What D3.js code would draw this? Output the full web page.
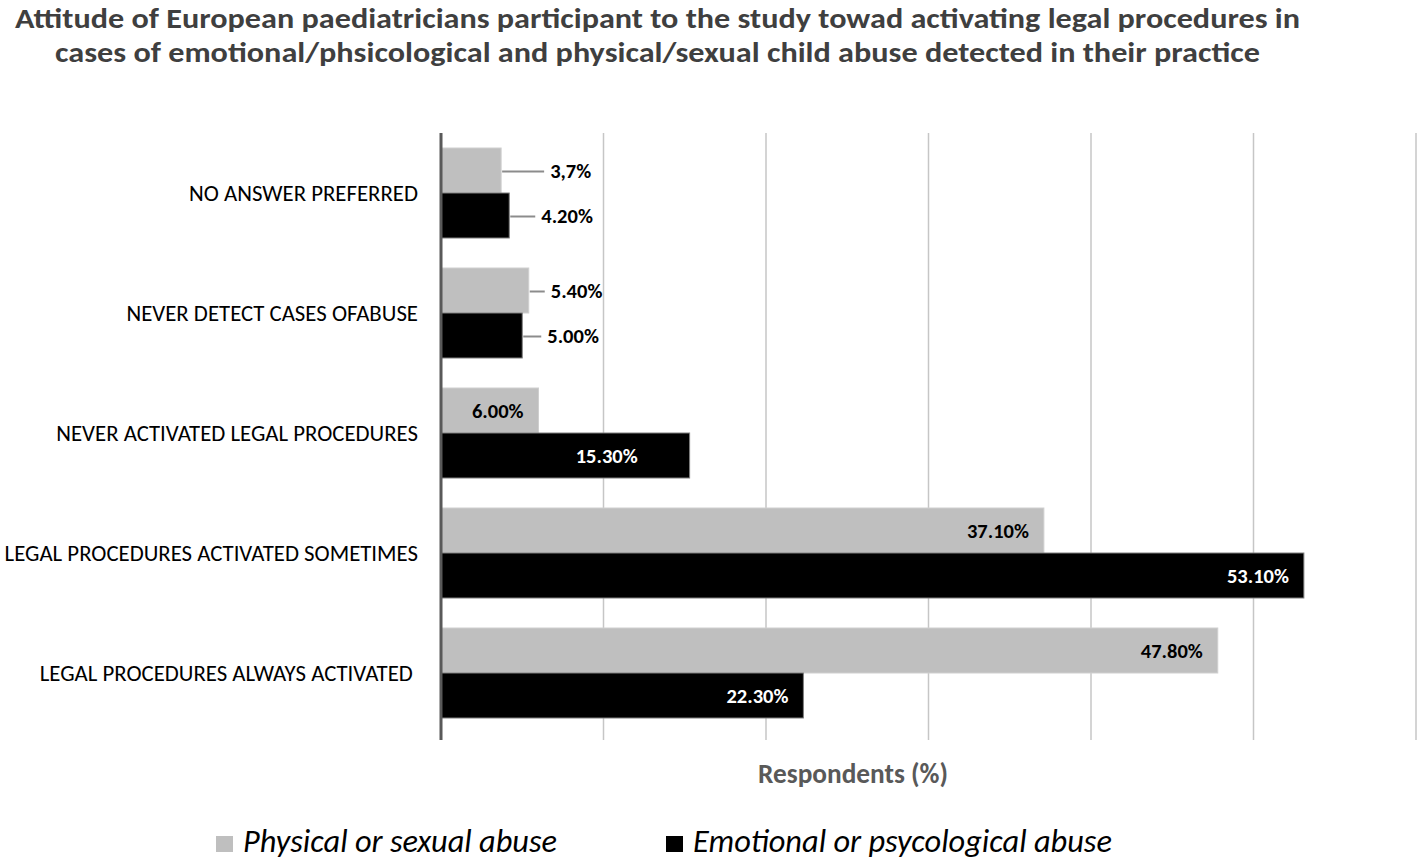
<!DOCTYPE html>
<html><head><meta charset="utf-8">
<script src="https://cdn.jsdelivr.net/npm/d3@7"></script>
<style>
html,body{margin:0;padding:0;background:#fff;}
svg{display:block;font-family:Carlito,Calibri,Lato,"Open Sans",sans-serif;}
</style></head>
<body>
<svg id="c" width="1417" height="861"></svg>
<script>
const categories = [
  "NO ANSWER PREFERRED",
  "NEVER DETECT CASES OFABUSE",
  "NEVER ACTIVATED LEGAL PROCEDURES",
  "LEGAL PROCEDURES ACTIVATED SOMETIMES",
  "LEGAL PROCEDURES ALWAYS ACTIVATED "
];
const seriesNames = ["Physical or sexual abuse", "Emotional or psycological abuse"];
const physical = [3.7, 5.4, 6.0, 37.1, 47.8];
const emotional = [4.2, 5.0, 15.3, 53.1, 22.3];
const physicalLabels = ["3,7%", "5.40%", "6.00%", "37.10%", "47.80%"];
const emotionalLabels = ["4.20%", "5.00%", "15.30%", "53.10%", "22.30%"];
const xTicks = [0, 10, 20, 30, 40, 50, 60];
const titleLines = [
  "Attitude of European paediatricians participant to the study towad activating legal procedures in",
  "cases of emotional/phsicological and physical/sexual child abuse detected in their practice"
];
const xTitle = "Respondents (%)";

(function () {
const svg = d3.select("#c");
const pL = 441, pR = 1416, pT = 133, pB = 733;
const colors = ["#bfbfbf", "#000000"];
const strokes = ["#cfcfcf", "#7f7f7f"];

// font size such that text reaches a given width
function fitSize(txt, weight, style, target) {
  const t = svg.append("text").attr("font-size", 20).attr("font-weight", weight)
    .attr("font-style", style).style("white-space", "pre").text(txt);
  const w = t.node().getComputedTextLength();
  t.remove();
  return 20 * target / w;
}
const fsCat = fitSize(categories[0], "normal", "normal", 229);
const fsLab = fitSize("53.10%", "bold", "normal", 62);
const fsXT = fitSize(xTitle, "bold", "normal", 190);
const fsLeg = fitSize(seriesNames[0], "normal", "italic", 314);

const x = d3.scaleLinear().domain([0, 60]).range([pL, pR]);
const y = d3.scaleBand().domain(categories).range([pT, pB]).paddingInner(0.25).paddingOuter(0.125);
const ySub = d3.scaleBand().domain([0, 1]).range([0, y.bandwidth()]);

// title (two centred lines)
const titleX = [15, 55], titleW = [1285, 1205], titleY = [27.5, 62];
svg.append("g").selectAll("text").data(titleLines).join("text")
  .attr("x", (d, i) => titleX[i]).attr("y", (d, i) => titleY[i])
  .attr("font-weight", "bold").attr("font-size", 28)
  .attr("textLength", (d, i) => titleW[i]).attr("lengthAdjust", "spacingAndGlyphs")
  .attr("fill", "#3f3f3f").text(d => d);

// gridlines
svg.append("g").selectAll("line").data(xTicks.slice(1)).join("line")
  .attr("x1", d => x(d)).attr("x2", d => x(d)).attr("y1", pT).attr("y2", pB + 7)
  .attr("stroke", "#c6c6c6").attr("stroke-width", 1.5);

const rows = categories.map((c, i) => ({
  cat: c,
  vals: [
    {s: 0, v: physical[i], label: physicalLabels[i]},
    {s: 1, v: emotional[i], label: emotionalLabels[i]}
  ]
}));

const g = svg.append("g").selectAll("g").data(rows).join("g")
  .attr("transform", d => `translate(0,${y(d.cat)})`);

g.selectAll("rect").data(d => d.vals).join("rect")
  .attr("x", x(0)).attr("y", d => ySub(d.s))
  .attr("width", d => x(d.v) - x(0)).attr("height", ySub.bandwidth())
  .attr("fill", d => colors[d.s]).attr("stroke", d => strokes[d.s]).attr("stroke-width", 1);

// labels
const outsideGap = {"0-0": 49, "0-1": 32, "1-0": 22, "1-1": 25};
rows.forEach((r, i) => {
  r.vals.forEach(d => {
    const cy = y(r.cat) + ySub(d.s) + ySub.bandwidth() / 2;
    const key = i + "-" + d.s;
    const xe = x(d.v);
    if (outsideGap[key] !== undefined) {
      const gap = outsideGap[key];
      svg.append("line").attr("x1", xe + 1).attr("x2", xe + gap - 6)
        .attr("y1", cy + 1).attr("y2", cy + 1)
        .attr("stroke", "#8c8c8c").attr("stroke-width", 2);
      svg.append("text").attr("x", xe + gap).attr("y", cy).attr("dy", "0.35em")
        .attr("font-size", fsLab).attr("font-weight", "bold").attr("fill", "#000").text(d.label);
    } else {
      const shift = (i === 2 && d.s === 1) ? 52 : 15;
      svg.append("text").attr("x", xe - shift).attr("y", cy).attr("dy", "0.35em")
        .attr("text-anchor", "end")
        .attr("font-size", fsLab).attr("font-weight", "bold")
        .attr("fill", d.s === 1 ? "#fff" : "#000").text(d.label);
    }
  });
});

// y axis line
svg.append("line").attr("x1", pL).attr("x2", pL).attr("y1", pT).attr("y2", pB + 7)
  .attr("stroke", "#595959").attr("stroke-width", 3);

// category labels
svg.append("g").selectAll("text").data(categories).join("text")
  .attr("x", 418).attr("y", d => y(d) + y.bandwidth() / 2).attr("dy", "0.35em")
  .attr("text-anchor", "end").attr("font-size", fsCat).attr("fill", "#000")
  .style("white-space", "pre")
  .text(d => d);

// x title
svg.append("text").attr("x", 853).attr("y", 773).attr("dy", "0.35em")
  .attr("text-anchor", "middle").attr("font-size", fsXT).attr("font-weight", "bold")
  .attr("fill", "#595959").text(xTitle);

// legend
const legX = [216, 666];
const lg = svg.append("g").selectAll("g").data(seriesNames).join("g")
  .attr("transform", (d, i) => `translate(${legX[i]},852)`);
lg.append("rect").attr("x", 0).attr("y", -16).attr("width", 17).attr("height", 16)
  .attr("fill", (d, i) => colors[i]);
lg.append("text").attr("x", 27).attr("y", 0)
  .attr("font-size", fsLeg).attr("font-style", "italic").attr("fill", "#000").text(d => d);
})();
</script>
</body></html>
